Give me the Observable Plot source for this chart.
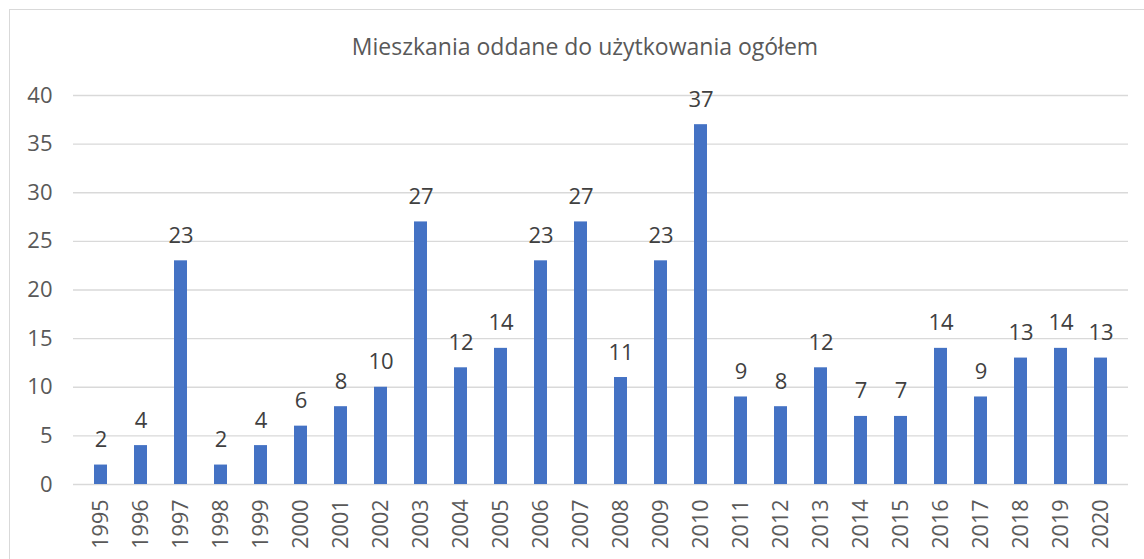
<!DOCTYPE html>
<html>
<head>
<meta charset="utf-8">
<script src="https://cdn.jsdelivr.net/npm/d3@7"></script>
<script src="https://cdn.jsdelivr.net/npm/@observablehq/plot@0.6"></script>
<style>
  html, body { margin: 0; padding: 0; background: #fff; overflow: hidden; }
  #wrap { position: relative; width: 1144px; height: 559px; overflow: hidden; }
  #border { position: absolute; left: 9px; top: 9px; width: 1300px; height: 700px; border: 1.5px solid #d9d9d9; box-sizing: border-box; }
  #title { position: absolute; left: 0; top: 30px; width: 1170px; text-align: center; font-family: "Open Sans", sans-serif; font-size: 23px; color: #595959; }
  #chart { position: absolute; left: 0; top: 0; }
</style>
</head>
<body>
<div id="wrap">
  <div id="border"></div>
  <div id="title">Mieszkania oddane do użytkowania ogółem</div>
  <div id="chart"></div>
</div>
<script>
const years = ["1995","1996","1997","1998","1999","2000","2001","2002","2003","2004","2005","2006","2007","2008","2009","2010","2011","2012","2013","2014","2015","2016","2017","2018","2019","2020"];
const values = [2,4,23,2,4,6,8,10,27,12,14,23,27,11,23,37,9,8,12,7,7,14,9,13,14,13];
const yTicks = [0,5,10,15,20,25,30,35,40];

const data = years.map((y, i) => ({year: y, value: values[i]}));

const chart = Plot.plot({
  width: 1144,
  height: 559,
  marginLeft: 73,
  marginRight: 16,
  marginTop: 95,
  marginBottom: 75,
  style: {fontFamily: "Open Sans, sans-serif", fontSize: "22px", color: "#595959", background: "transparent", overflow: "visible"},
  x: {domain: years, paddingInner: 0.68, paddingOuter: 0.34, label: null, axis: null},
  y: {domain: [0, 40], label: null, axis: null},
  marks: [
    Plot.ruleY(yTicks, {stroke: "#d9d9d9", strokeWidth: 1.3}),
    Plot.barY(data, {x: "year", y: "value", fill: "#4472C4"}),
    Plot.text(data, {x: "year", y: "value", text: d => String(d.value), dy: -25, fill: "#404040", fontSize: 22}),
    Plot.axisX({tickRotate: -90, tickSize: 0, tickPadding: 15, fill: "#595959", fontSize: 21.5, label: null}),
    Plot.axisY({ticks: yTicks, tickSize: 0, tickPadding: 21, fill: "#595959", fontSize: 22, label: null})
  ]
});
document.getElementById("chart").appendChild(chart);
</script>
</body>
</html>
